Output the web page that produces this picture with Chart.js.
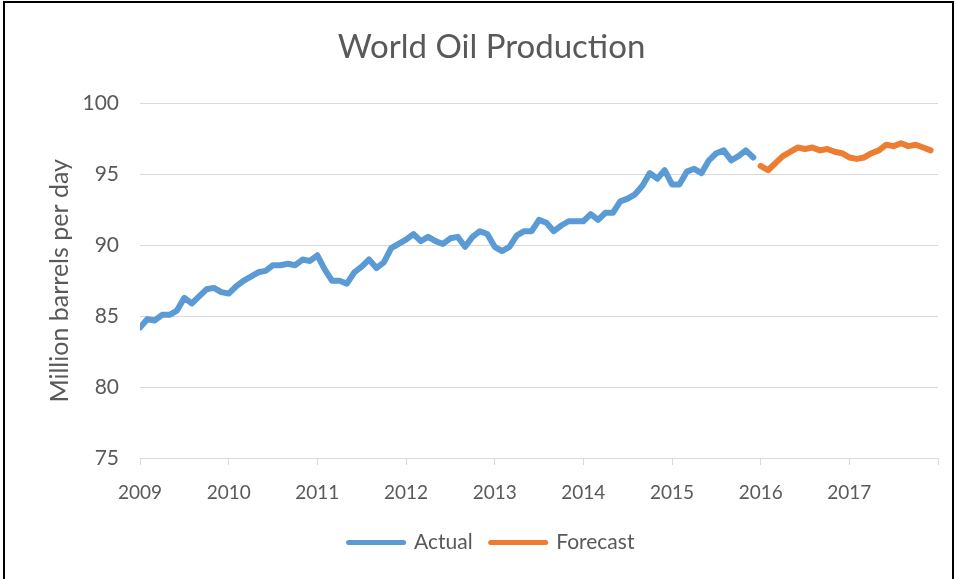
<!DOCTYPE html>
<html>
<head>
<meta charset="utf-8">
<script src="https://cdn.jsdelivr.net/npm/chart.js@4"></script>
<style>
  html, body { margin: 0; padding: 0; background: #fff; }
  #wrap { position: relative; width: 957px; height: 579px; overflow: hidden; }
  #frame { position: absolute; left: 3px; top: 1px; width: 951px; height: 600px; border: 2px solid #000; box-sizing: border-box; pointer-events: none; }
  canvas { position: absolute; left: 0; top: 0; }
</style>
</head>
<body>
<div id="wrap">
  <canvas id="chart" width="957" height="579"></canvas>
  <div id="frame"></div>
</div>
<script>
// monthly values, million barrels per day
const actualStartYear = 2009;
const actualValues = [
  // 2009
  84.2, 84.8, 84.7, 85.1, 85.1, 85.4, 86.3, 85.9, 86.4, 86.9, 87.0, 86.7,
  // 2010
  86.6, 87.1, 87.5, 87.8, 88.1, 88.2, 88.6, 88.6, 88.7, 88.6, 89.0, 88.9,
  // 2011
  89.3, 88.3, 87.5, 87.5, 87.3, 88.1, 88.5, 89.0, 88.4, 88.8, 89.8, 90.1,
  // 2012
  90.4, 90.8, 90.3, 90.6, 90.3, 90.1, 90.5, 90.6, 89.9, 90.6, 91.0, 90.8,
  // 2013
  89.9, 89.6, 89.9, 90.7, 91.0, 91.0, 91.8, 91.6, 91.0, 91.4, 91.7, 91.7,
  // 2014
  91.7, 92.2, 91.8, 92.3, 92.3, 93.1, 93.3, 93.6, 94.2, 95.1, 94.7, 95.3,
  // 2015
  94.3, 94.3, 95.2, 95.4, 95.1, 96.0, 96.5, 96.7, 96.0, 96.3, 96.7, 96.2
];
const forecastStartYear = 2016;
const forecastValues = [
  // 2016
  95.6, 95.3, 95.8, 96.3, 96.6, 96.9, 96.8, 96.9, 96.7, 96.8, 96.6, 96.5,
  // 2017
  96.2, 96.1, 96.2, 96.5, 96.7, 97.1, 97.0, 97.2, 97.0, 97.1, 96.9, 96.7
];
const yearTicks = [2009, 2010, 2011, 2012, 2013, 2014, 2015, 2016, 2017];
const seriesNames = ["Actual", "Forecast"];
const seriesColors = ["#5B9BD5", "#ED7D31"];

const textColor = "#595959";
const fontFamily = "Lato, 'Open Sans', sans-serif";

function toPoints(startYear, values) {
  return values.map((v, i) => ({x: startYear + i / 12, y: v}));
}

function makeDataset(i, points) {
  return {
    label: seriesNames[i],
    data: points,
    borderColor: seriesColors[i],
    backgroundColor: seriesColors[i],
    borderWidth: 6,
    pointRadius: 0,
    pointStyle: "line",
    tension: 0,
    borderJoinStyle: "round",
    borderCapStyle: "round",
  };
}

const ctx = document.getElementById("chart").getContext("2d");
new Chart(ctx, {
  type: "line",
  data: {
    datasets: [
      makeDataset(0, toPoints(actualStartYear, actualValues)),
      makeDataset(1, toPoints(forecastStartYear, forecastValues)),
    ],
  },
  options: {
    responsive: false,
    animation: false,
    devicePixelRatio: 1,
    layout: {padding: {left: 45, right: 19, top: 0, bottom: 16}},
    plugins: {
      title: {
        display: true,
        text: "World Oil Production",
        color: textColor,
        font: {family: fontFamily, size: 33, weight: "normal"},
        padding: {top: 28, bottom: 36},
      },
      legend: {
        position: "bottom",
        labels: {
          color: textColor,
          font: {family: fontFamily, size: 21},
          usePointStyle: true,
          pointStyleWidth: 55,
          boxHeight: 5,
          padding: 18,
          generateLabels(chart) {
            return chart.data.datasets.map((ds, i) => ({
              text: ds.label,
              fillStyle: ds.borderColor,
              strokeStyle: ds.borderColor,
              lineWidth: 5,
              lineCap: "round",
              pointStyle: "line",
              datasetIndex: i,
              fontColor: textColor,
            }));
          },
        },
      },
      tooltip: {enabled: false},
    },
    scales: {
      x: {
        type: "linear",
        min: 2009,
        max: 2018,
        afterBuildTicks(scale) {
          scale.ticks = yearTicks.concat([2018]).map(v => ({value: v}));
        },
        afterFit(scale) { scale.height = 56; },
        ticks: {
          color: textColor,
          font: {family: fontFamily, size: 19},
          padding: 16,
          maxRotation: 0,
          callback: v => (yearTicks.includes(v) ? String(v) : ""),
        },
        grid: {
          drawOnChartArea: false,
          drawTicks: true,
          tickLength: 7,
          color: "#D9D9D9",
        },
        border: {color: "#D9D9D9", width: 1},
      },
      y: {
        min: 75,
        max: 100,
        afterFit(scale) { scale.width = 95; },
        ticks: {
          stepSize: 5,
          color: textColor,
          font: {family: fontFamily, size: 21},
          padding: 21,
        },
        grid: {color: "#D9D9D9", drawTicks: false},
        border: {display: false},
        title: {
          display: true,
          text: "Million barrels per day",
          color: textColor,
          font: {family: fontFamily, size: 25},
          padding: 0,
        },
      },
    },
  },
});
</script>
</body>
</html>
